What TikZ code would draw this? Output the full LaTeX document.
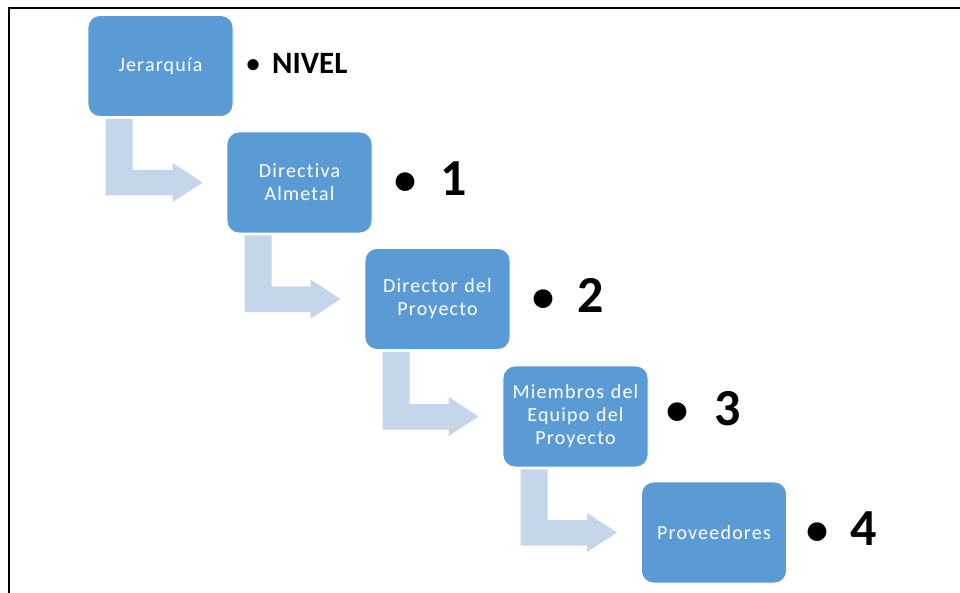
\documentclass[tikz,border=0pt]{standalone}
\usepackage{fontspec}
\setmainfont{Carlito}
\newfontfamily\boxfont[LetterSpace=6,Ligatures=NoCommon]{Carlito}
\usetikzlibrary{calc}
\definecolor{boxblue}{HTML}{5B9BD5}
\definecolor{arrowblue}{HTML}{C5D5EA}
\tikzset{
  stepbox/.style={fill=boxblue, draw=white, line width=0.8pt, rounded corners=12pt,
    minimum width=145pt, minimum height=101pt, text width=135pt, align=center,
    text=white, inner sep=0pt, font=\boxfont\fontsize{20}{23}\selectfont},
  levellabel/.style={anchor=west, inner sep=0pt, font=\bfseries\fontsize{52}{60}\selectfont},
  niveltext/.style={anchor=west, inner sep=0pt, font=\bfseries\fontsize{31}{36}\selectfont}
}
\newcommand\bul{\makebox[0pt][c]{\raisebox{0.02em}{\scalebox{0.85}{•}}}}
\newcommand\bentarrow[2]{%
  \fill[arrowblue] let \p1=(#1.south west), \p2=(#2.west) in
    (\x1+18pt,\y1-2pt) -- (\x1+45pt,\y1-2pt) -- (\x1+45pt,\y2+12.5pt)
    -- (\x2-54pt,\y2+12.5pt) -- (\x2-54pt,\y2+19.5pt) -- (\x2-24pt,\y2)
    -- (\x2-54pt,\y2-19.5pt) -- (\x2-54pt,\y2-13pt) -- (\x1+18pt,\y2-13pt) -- cycle;}
\begin{document}
\begin{tikzpicture}[x=1pt,y=-1pt]
\useasboundingbox (0,0) rectangle (960,593);
\fill[white] (0,0) rectangle (960,593);
\draw[line width=2pt, black] (9,593) -- (9,8) -- (960,8);

\node[stepbox] (b1) at (160.5,66) {Jerarquía};
\node[stepbox] (b2) at (299.5,182.5) {Directiva\\Almetal};
\node[stepbox] (b3) at (437.5,299) {Director del\\Proyecto};
\node[stepbox] (b4) at (575.5,416.5) {Miembros del\\Equipo del\\Proyecto};
\node[stepbox] (b5) at (714,532.5) {Proveedores};

\bentarrow{b1}{b2}
\bentarrow{b2}{b3}
\bentarrow{b3}{b4}
\bentarrow{b4}{b5}

\node[niveltext] (l0) at (253,63) {\bul\hspace{19pt}NIVEL};
\node[levellabel] (l1) at (405,178.5) {\bul\hspace{35pt}1};
\node[levellabel] (l2) at (543,295.5) {\bul\hspace{34pt}2};
\node[levellabel] (l3) at (677,409) {\bul\hspace{37pt}3};
\node[levellabel] (l4) at (817,528.5) {\bul\hspace{33pt}4};
\end{tikzpicture}
\end{document}
